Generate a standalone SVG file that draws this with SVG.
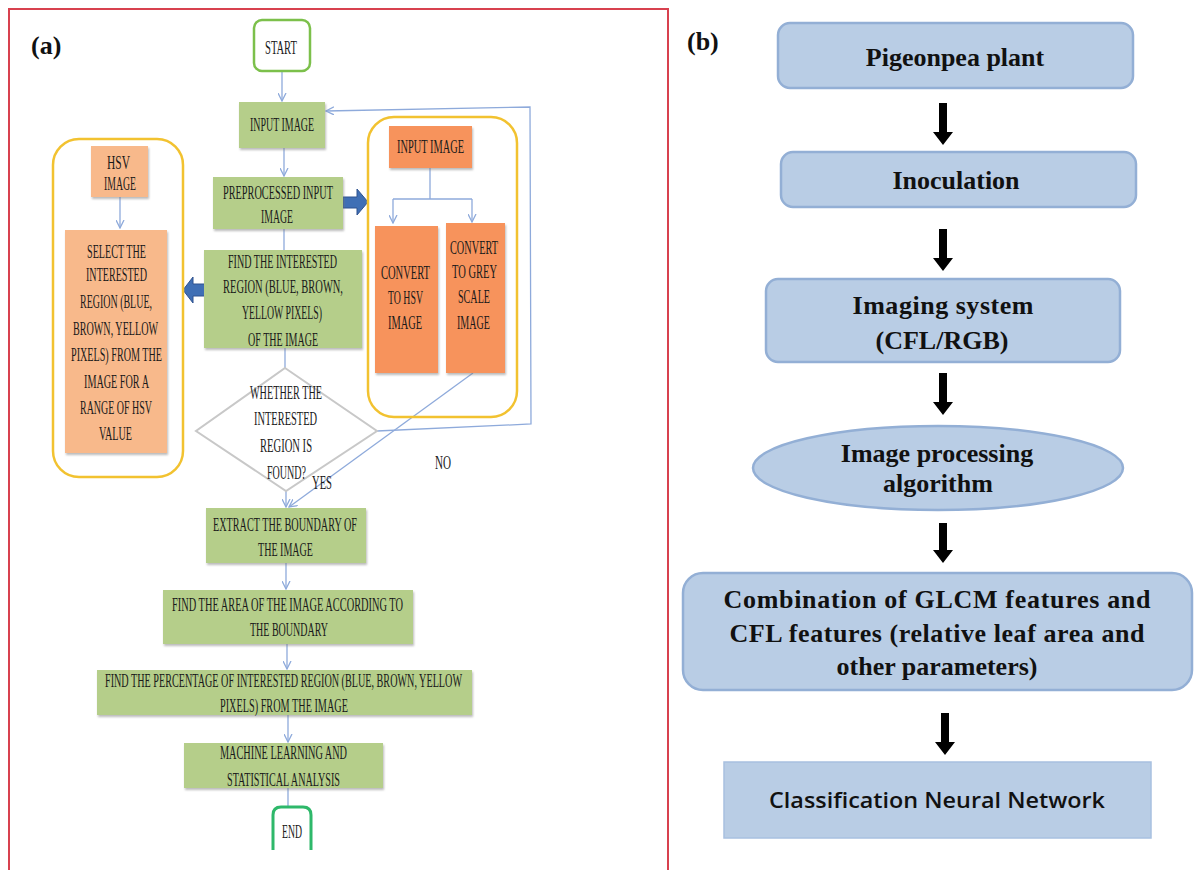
<svg xmlns="http://www.w3.org/2000/svg" width="1201" height="871" viewBox="0 0 1201 871">
<defs>
<style>
.t{font-family:"Liberation Serif",serif;font-size:19px;fill:#1a1a1a}
.lab{font-family:"Liberation Serif",serif;font-size:26px;font-weight:bold;fill:#111}
.b{font-family:"Liberation Serif",serif;font-size:26px;font-weight:bold;fill:#111;text-anchor:middle}
.s{font-family:"Open Sans","Liberation Sans",sans-serif;font-size:22px;font-weight:600;fill:#111;text-anchor:middle}
.g{fill:#b5ce8a;filter:url(#sh)}
.o{fill:#f7935c;filter:url(#sh)}
.p{fill:#f8b98b;filter:url(#sh)}
.grp{fill:none;stroke:#f2c230;stroke-width:2.5}
.c{fill:none;stroke:#8eaadb;stroke-width:1.3}
.bx{fill:#b9cde5;stroke:#93afd5;stroke-width:2.5}
.blk{fill:#3f6fb5;stroke:#2f528f;stroke-width:1}
.ar{fill:#000}
</style>
<filter id="sh" x="-10%" y="-10%" width="120%" height="130%">
<feDropShadow dx="1" dy="2" stdDeviation="1.2" flood-color="#777" flood-opacity="0.5"/>
</filter>
<marker id="m" markerWidth="9" markerHeight="9" refX="8" refY="4.5" orient="auto" markerUnits="userSpaceOnUse">
<path d="M0,0.5 L8,4.5 L0,8.5" fill="none" stroke="#8eaadb" stroke-width="1.3"/>
</marker>
</defs>
<rect width="1201" height="871" fill="#fff"/>
<path d="M9,870 V9 H668 V870" fill="none" stroke="#d8414f" stroke-width="2"/>
<text class="lab" x="31" y="54">(a)</text>
<text class="lab" x="687" y="50">(b)</text>

<g id="connectors">
<path class="c" d="M282,71 V101" marker-end="url(#m)"/>
<path class="c" d="M284,148 V176" marker-end="url(#m)"/>
<path class="c" d="M284,229 V250"/>
<path class="c" d="M285,348 V368"/>
<path class="c" d="M120,197 V228" marker-end="url(#m)"/>
<path class="c" d="M430,168 V199 M393,199 H472"/>
<path class="c" d="M393,199 V223" marker-end="url(#m)"/>
<path class="c" d="M472,199 V222" marker-end="url(#m)"/>
<path class="c" d="M377,431 L531,424 L530,107 L326,111" marker-end="url(#m)" stroke="#7f9fd6"/>
<path class="c" d="M473,373 L289,507" marker-end="url(#m)" stroke="#6f92d0"/>
<path class="c" d="M286,491 V507" marker-end="url(#m)"/>
<path class="c" d="M286,563 V589" marker-end="url(#m)"/>
<path class="c" d="M287,644 V669" marker-end="url(#m)"/>
<path class="c" d="M288,715 V742" marker-end="url(#m)"/>
<path class="c" d="M288,788 V808"/>
<path class="blk" d="M343,197 H357 V189 L368,202 L357,215 V208 H343 Z"/>
<path class="blk" d="M207,284 H193 V277 L183,290 L193,303 V296 H207 Z"/>
<path class="ar" d="M939,103 H947 V132 H953 L943,145 L933,132 H939 Z"/>
<path class="ar" d="M939,229 H947 V258 H953 L943,271 L933,258 H939 Z"/>
<path class="ar" d="M939,373 H947 V402 H953 L943,415 L933,402 H939 Z"/>
<path class="ar" d="M939,523 H947 V550 H953 L943,563 L933,550 H939 Z"/>
<path class="ar" d="M941,713 H949 V742 H955 L945,755 L935,742 H941 Z"/>
</g>

<g id="start">
<rect x="254" y="20" width="56" height="51" rx="8" fill="#fff" stroke="#7cc04b" stroke-width="2.5"/>
<text class="t" transform="translate(265,54) scale(0.6,1)" textLength="53.3" lengthAdjust="spacingAndGlyphs">START</text>
</g>
<g id="input">
<rect class="g" x="239" y="102" width="86" height="46"/>
<text class="t" transform="translate(250,131) scale(0.6,1)" textLength="106.7" lengthAdjust="spacingAndGlyphs">INPUT IMAGE</text>
</g>
<g id="preproc">
<rect class="g" x="213" y="177" width="130" height="52"/>
<text class="t" transform="translate(223,199) scale(0.6,1)" textLength="183.3" lengthAdjust="spacingAndGlyphs">PREPROCESSED INPUT</text>
<text class="t" transform="translate(261,223) scale(0.6,1)" textLength="53.3" lengthAdjust="spacingAndGlyphs">IMAGE</text>
</g>
<g id="find">
<rect class="g" x="204" y="250" width="158" height="98"/>
<text class="t" transform="translate(228,268) scale(0.6,1)" textLength="181.7" lengthAdjust="spacingAndGlyphs">FIND THE INTERESTED</text>
<text class="t" transform="translate(223,293) scale(0.6,1)" textLength="200" lengthAdjust="spacingAndGlyphs">REGION (BLUE, BROWN,</text>
<text class="t" transform="translate(242,319) scale(0.6,1)" textLength="133.3" lengthAdjust="spacingAndGlyphs">YELLOW PIXELS)</text>
<text class="t" transform="translate(248,346) scale(0.6,1)" textLength="116.7" lengthAdjust="spacingAndGlyphs">OF THE IMAGE</text>
</g>
<g id="leftgroup">
<rect class="grp" x="53" y="139" width="130" height="338" rx="26"/>
</g>
<g id="hsvimage">
<rect class="p" x="91" y="146" width="57" height="51"/>
<text class="t" transform="translate(107,169) scale(0.6,1)" textLength="38.3" lengthAdjust="spacingAndGlyphs">HSV</text>
<text class="t" transform="translate(104,190) scale(0.6,1)" textLength="53.3" lengthAdjust="spacingAndGlyphs">IMAGE</text>
</g>
<g id="select">
<rect class="p" x="65" y="230" width="102" height="223"/>
<text class="t" transform="translate(87,258) scale(0.6,1)" textLength="98.3" lengthAdjust="spacingAndGlyphs">SELECT THE</text>
<text class="t" transform="translate(86,281) scale(0.6,1)" textLength="101.7" lengthAdjust="spacingAndGlyphs">INTERESTED</text>
<text class="t" transform="translate(80,308) scale(0.6,1)" textLength="120" lengthAdjust="spacingAndGlyphs">REGION (BLUE,</text>
<text class="t" transform="translate(73,335) scale(0.6,1)" textLength="141.7" lengthAdjust="spacingAndGlyphs">BROWN, YELLOW</text>
<text class="t" transform="translate(71,361) scale(0.6,1)" textLength="151.7" lengthAdjust="spacingAndGlyphs">PIXELS) FROM THE</text>
<text class="t" transform="translate(84,388) scale(0.6,1)" textLength="108.3" lengthAdjust="spacingAndGlyphs">IMAGE FOR A</text>
<text class="t" transform="translate(80,414) scale(0.6,1)" textLength="120" lengthAdjust="spacingAndGlyphs">RANGE OF HSV</text>
<text class="t" transform="translate(99,440) scale(0.6,1)" textLength="55" lengthAdjust="spacingAndGlyphs">VALUE</text>
</g>
<g id="rightgroup">
<rect class="grp" x="368" y="117" width="149" height="300" rx="26"/>
</g>
<g id="input2">
<rect class="o" x="389" y="126" width="83" height="42"/>
<text class="t" transform="translate(397,153) scale(0.6,1)" textLength="111.7" lengthAdjust="spacingAndGlyphs">INPUT IMAGE</text>
</g>
<g id="tohsv">
<rect class="o" x="375" y="226" width="63" height="147"/>
<text class="t" transform="translate(381,279) scale(0.6,1)" textLength="81.7" lengthAdjust="spacingAndGlyphs">CONVERT</text>
<text class="t" transform="translate(388,304) scale(0.6,1)" textLength="58.3" lengthAdjust="spacingAndGlyphs">TO HSV</text>
<text class="t" transform="translate(388,329) scale(0.6,1)" textLength="56.7" lengthAdjust="spacingAndGlyphs">IMAGE</text>
</g>
<g id="togrey">
<rect class="o" x="446" y="223" width="59" height="150"/>
<text class="t" transform="translate(450,254) scale(0.6,1)" textLength="80" lengthAdjust="spacingAndGlyphs">CONVERT</text>
<text class="t" transform="translate(452,278) scale(0.6,1)" textLength="75" lengthAdjust="spacingAndGlyphs">TO GREY</text>
<text class="t" transform="translate(458,303) scale(0.6,1)" textLength="53.3" lengthAdjust="spacingAndGlyphs">SCALE</text>
<text class="t" transform="translate(457,329) scale(0.6,1)" textLength="55" lengthAdjust="spacingAndGlyphs">IMAGE</text>
</g>
<g id="decision">
<path d="M285,368 L377,431 L286,491 L196,431 Z" fill="#fff" stroke="#c8c8c8" stroke-width="2"/>
<text class="t" transform="translate(250,399) scale(0.6,1)" textLength="120" lengthAdjust="spacingAndGlyphs">WHETHER THE</text>
<text class="t" transform="translate(254,425) scale(0.6,1)" textLength="105" lengthAdjust="spacingAndGlyphs">INTERESTED</text>
<text class="t" transform="translate(260,452) scale(0.6,1)" textLength="86.7" lengthAdjust="spacingAndGlyphs">REGION IS</text>
<text class="t" transform="translate(267,479) scale(0.6,1)" textLength="65" lengthAdjust="spacingAndGlyphs">FOUND?</text>
</g>
<g id="labels">
<text class="t" transform="translate(312,489) scale(0.6,1)" textLength="33.3" lengthAdjust="spacingAndGlyphs">YES</text>
<text class="t" transform="translate(435,469) scale(0.6,1)" textLength="26.7" lengthAdjust="spacingAndGlyphs">NO</text>
</g>
<g id="extract">
<rect class="g" x="206" y="508" width="160" height="55"/>
<text class="t" transform="translate(213,531) scale(0.6,1)" textLength="240" lengthAdjust="spacingAndGlyphs">EXTRACT THE BOUNDARY OF</text>
<text class="t" transform="translate(258,556) scale(0.6,1)" textLength="91.7" lengthAdjust="spacingAndGlyphs">THE IMAGE</text>
</g>
<g id="area">
<rect class="g" x="163" y="590" width="250" height="54"/>
<text class="t" transform="translate(172,611) scale(0.6,1)" textLength="385" lengthAdjust="spacingAndGlyphs">FIND THE AREA OF THE IMAGE ACCORDING TO</text>
<text class="t" transform="translate(250,636) scale(0.6,1)" textLength="130" lengthAdjust="spacingAndGlyphs">THE BOUNDARY</text>
</g>
<g id="percentage">
<rect class="g" x="97" y="670" width="375" height="45"/>
<text class="t" transform="translate(105,687) scale(0.6,1)" textLength="595" lengthAdjust="spacingAndGlyphs">FIND THE PERCENTAGE OF INTERESTED REGION (BLUE, BROWN, YELLOW</text>
<text class="t" transform="translate(220,712) scale(0.6,1)" textLength="213.3" lengthAdjust="spacingAndGlyphs">PIXELS) FROM THE IMAGE</text>
</g>
<g id="ml">
<rect class="g" x="184" y="743" width="199" height="45"/>
<text class="t" transform="translate(220,759) scale(0.6,1)" textLength="211.7" lengthAdjust="spacingAndGlyphs">MACHINE LEARNING AND</text>
<text class="t" transform="translate(227,786) scale(0.6,1)" textLength="188.3" lengthAdjust="spacingAndGlyphs">STATISTICAL ANALYSIS</text>
</g>
<g id="end">
<path d="M273,850 V815 Q273,807 281,807 H303 Q311,807 311,815 V850" fill="none" stroke="#2eb86a" stroke-width="3"/>
<text class="t" transform="translate(282,838) scale(0.6,1)" textLength="33.3" lengthAdjust="spacingAndGlyphs">END</text>
</g>

<g id="b1">
<rect class="bx" x="778" y="23" width="355" height="65" rx="12"/>
<text class="b" x="955" y="66">Pigeonpea plant</text>
</g>
<g id="b2">
<rect class="bx" x="781" y="152" width="355" height="55" rx="12"/>
<text class="b" x="956" y="189">Inoculation</text>
</g>
<g id="b3">
<rect class="bx" x="766" y="279" width="354" height="83" rx="12"/>
<text class="b" x="943" y="314" textLength="181" lengthAdjust="spacing">Imaging system</text>
<text class="b" x="942" y="349">(CFL/RGB)</text>
</g>
<g id="b4">
<ellipse class="bx" cx="938" cy="468" rx="185" ry="42"/>
<text class="b" x="937" y="462">Image processing</text>
<text class="b" x="938" y="492">algorithm</text>
</g>
<g id="b5">
<rect class="bx" x="683" y="573" width="509" height="117" rx="20"/>
<text class="b" x="937" y="608" textLength="427" lengthAdjust="spacing">Combination of GLCM features and</text>
<text class="b" x="937" y="642" textLength="415" lengthAdjust="spacing">CFL features (relative leaf area and</text>
<text class="b" x="937" y="675">other parameters)</text>
</g>
<g id="b6">
<rect x="724" y="762" width="427" height="76" fill="#b9cde5" stroke="#a8c0e0" stroke-width="1.5"/>
<text class="s" x="937" y="808" textLength="336" lengthAdjust="spacingAndGlyphs">Classification  Neural Network</text>
</g>
</svg>
